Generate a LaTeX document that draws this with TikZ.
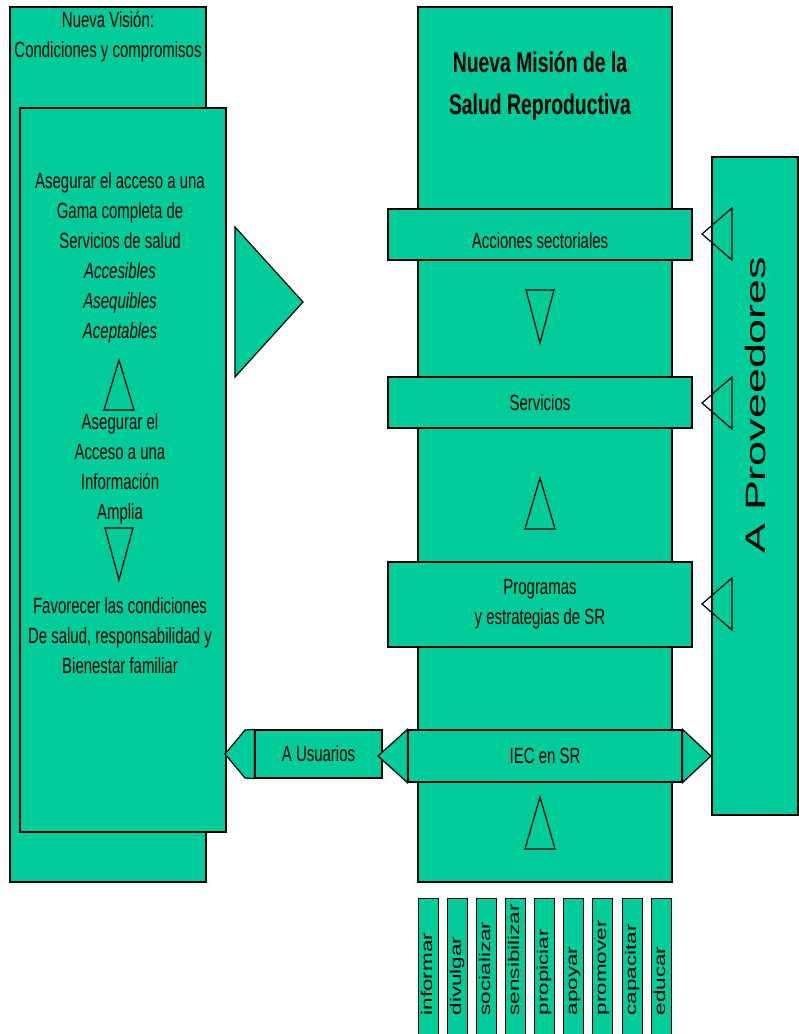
\documentclass[tikz,border=0pt]{standalone}
\usepackage{fontspec}
\setmainfont{Liberation Sans}
\newfontfamily\narrowfont[FakeStretch=0.68]{Liberation Sans}
\newfontfamily\tallfont[FakeStretch=1.6]{Liberation Sans}
\newfontfamily\verbfont[FakeStretch=1.45]{Liberation Sans}
\usetikzlibrary{positioning}
\definecolor{Verde}{HTML}{00CC99}
\tikzset{
  box/.style={draw=black,fill=Verde,line width=1.2pt,inner sep=0pt},
  txt/.style={font=\narrowfont\fontsize{22}{30}\selectfont,align=center,inner sep=0pt},
  titletxt/.style={font=\narrowfont\bfseries\fontsize{28.5}{42}\selectfont,align=center,inner sep=0pt},
  tri/.style={draw=black,line width=1.2pt},
  trifill/.style={draw=black,fill=Verde,line width=1.2pt},
  verb/.style={box,line width=1pt,minimum width=20pt,minimum height=142pt},
  verbtxt/.style={font=\verbfont\fontsize{15.5}{16}\selectfont,rotate=90,anchor=west,inner sep=0pt,text height=11pt,text depth=3pt},
  provtxt/.style={font=\tallfont\fontsize{28}{30}\selectfont,rotate=90,inner sep=0pt}
}

\begin{document}
\begin{tikzpicture}[x=1pt,y=-1pt]
  \useasboundingbox (0,0) rectangle (799,1034);
  % vision
  \node[box,minimum width=196pt,minimum height=875pt] (vision) at (108,444.5) {};
  \node[txt] (visiontxt) at (108,37) {Nueva Visión:\\Condiciones y compromisos};
  \node[box,minimum width=206pt,minimum height=724pt] (acceso) at (123,470) {};
  \node[txt] (gama) at (120,258) {Asegurar el acceso a una\\Gama completa de\\Servicios de salud\\\textit{Accesibles}\\\textit{Asequibles}\\\textit{Aceptables}};
  \node[txt] (info) at (120,469) {Asegurar el\\Acceso a una\\Información\\Amplia};
  \node[txt] (favor) at (120,636) {Favorecer las condiciones\\De salud, responsabilidad y\\Bienestar familiar};
  \draw[tri] (119,360) -- (104,410) -- (134,410) -- cycle;
  \draw[tri] (105,528) -- (133,528) -- (119,580) -- cycle;
  \draw[trifill] (235,227) -- (303,302) -- (235,377) -- cycle;
  % mision
  \node[box,minimum width=254pt,minimum height=875pt] (mision) at (545,444.5) {};
  \node[titletxt] (misiontxt) at (540,86) {Nueva Misión de la\\Salud Reproductiva};
  \node[box,txt,minimum width=304pt,minimum height=51pt,text height=28pt,text depth=0pt] (acc) at (540,234.5) {Acciones sectoriales};
  \node[box,txt,minimum width=304pt,minimum height=51pt] (serv) at (540,402.5) {Servicios};
  \node[box,txt,minimum width=304pt,minimum height=85pt] (prog) at (540,604.5) {Programas\\y estrategias de SR};
  \draw[tri] (526,290) -- (554,290) -- (540,343) -- cycle;
  \draw[tri] (540,478) -- (525,529) -- (555,529) -- cycle;
  \draw[tri] (540,797) -- (525,849) -- (555,849) -- cycle;
  % proveedores
  \node[box,minimum width=86pt,minimum height=658pt] (prov) at (755,486) {};
  \node[provtxt] (provtxt) at (755,405) {A Proveedores};
  \draw[tri] (732,208) -- (702,234) -- (732,260) -- cycle;
  \draw[tri] (732,377) -- (702,403) -- (732,429) -- cycle;
  \draw[tri] (732,578) -- (702,604) -- (732,630) -- cycle;
  % usuarios + iec
  \node[box,txt,minimum width=127pt,minimum height=48pt] (usu) at (318.5,754) {A Usuarios};
  \draw[trifill] (usu.north west) -- (245,730) -- (225,754) -- (245,778) -- (usu.south west) -- cycle;
  \node[box,txt,minimum width=274pt,minimum height=52pt] (iec) at (545,756) {IEC en SR};
  \draw[trifill] (iec.north west) -- (378,756) -- (iec.south west) -- cycle;
  \draw[trifill] (iec.north east) -- (711,756) -- (iec.south east) -- cycle;
  % verbos
  \node[verb] (v1) at (428,969) {};\node[verbtxt] at ([yshift=25pt]v1.south) {informar};
  \node[verb] (v2) at (457,969) {};\node[verbtxt] at ([yshift=25pt]v2.south) {divulgar};
  \node[verb] (v3) at (486,969) {};\node[verbtxt] at ([yshift=25pt]v3.south) {socializar};
  \node[verb] (v4) at (515,969) {};\node[verbtxt] at ([yshift=25pt]v4.south) {sensibilizar};
  \node[verb] (v5) at (544,969) {};\node[verbtxt] at ([yshift=25pt]v5.south) {propiciar};
  \node[verb] (v6) at (573,969) {};\node[verbtxt] at ([yshift=25pt]v6.south) {apoyar};
  \node[verb] (v7) at (602,969) {};\node[verbtxt] at ([yshift=25pt]v7.south) {promover};
  \node[verb] (v8) at (632,969) {};\node[verbtxt] at ([yshift=25pt]v8.south) {capacitar};
  \node[verb] (v9) at (661,969) {};\node[verbtxt] at ([yshift=25pt]v9.south) {educar};
\end{tikzpicture}
\end{document}
